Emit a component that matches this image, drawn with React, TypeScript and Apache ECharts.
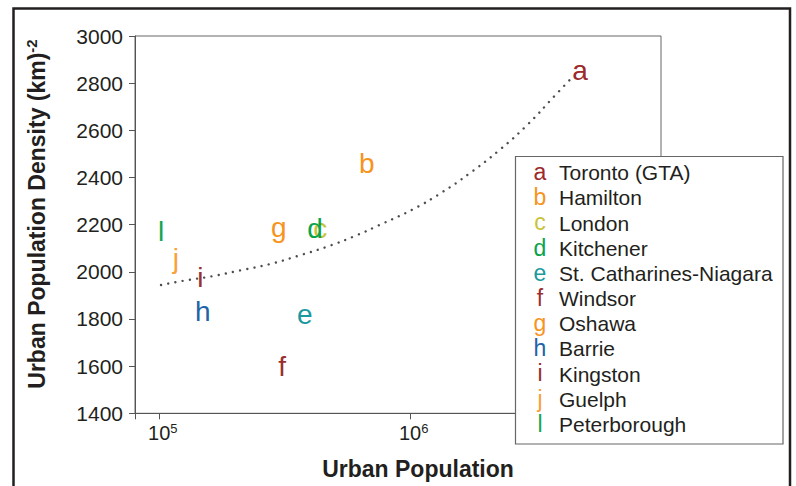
import React, { useEffect, useRef } from "react";
import * as echarts from "echarts";

// ---- data ----
const letters = ["a", "b", "c", "d", "e", "f", "g", "h", "i", "j", "l"];
const cities = [
  "Toronto (GTA)",
  "Hamilton",
  "London",
  "Kitchener",
  "St. Catharines-Niagara",
  "Windsor",
  "Oshawa",
  "Barrie",
  "Kingston",
  "Guelph",
  "Peterborough",
];
const cityColors = [
  "#9c2a2b",
  "#f7941d",
  "#c8c43a",
  "#0ba24c",
  "#1a99a1",
  "#98302f",
  "#f7941d",
  "#2164a6",
  "#98302f",
  "#f8a03a",
  "#14a651",
];
const population = [4755000, 671200, 437700, 418000, 380200, 308500, 299200, 149000, 145900, 116400, 101600];
const density = [2855, 2459, 2184, 2184, 1821, 1599, 2186, 1830, 1978, 2056, 2173];

// dotted fit curve
const fitPopulation = [
  101600, 124700, 161900, 210300, 273700, 355500, 464500, 602600, 781900, 1025200, 1330000, 1726000, 2255000,
  2930000, 3767000, 4476000,
];
const fitDensity = [1944, 1962, 1981, 2006, 2032, 2067, 2106, 2152, 2206, 2265, 2335, 2418, 2514, 2623, 2746, 2830];

const yMin = 1400;
const yMax = 3000;
const yInterval = 200;
const xMin = 80000;
const xMax = 10000000;
const xLabelExponents = [5, 6];

const xTitle = "Urban Population";
const yTitle = "Urban Population Density (km)";
const yTitleSup = "-2";

const FONT = "'Liberation Sans', Arial, Helvetica, sans-serif";

export default function App() {
  const ref = useRef<HTMLDivElement>(null);

  useEffect(() => {
    if (!ref.current) return;
    const chart = echarts.init(ref.current, undefined, { renderer: "svg" });

    const legendBaseY = 180;
    const legendStep = 25.17;
    const legendChildren: any[] = [
      {
        type: "rect",
        shape: { x: 515.5, y: 156.5, width: 267.5, height: 287.5 },
        style: { fill: "#ffffff", stroke: "#666666", lineWidth: 1.2 },
        z: 100,
      },
    ];
    cities.forEach((name, i) => {
      const base = legendBaseY + legendStep * i;
      legendChildren.push({
        type: "text",
        x: 540,
        y: base - 0.3465 * 23,
        z: 101,
        style: {
          text: letters[i],
          fill: cityColors[i],
          fontSize: 23,
          fontFamily: FONT,
          align: "center",
          verticalAlign: "middle",
        },
      });
      legendChildren.push({
        type: "text",
        x: 559,
        y: base - 0.3465 * 21,
        z: 101,
        style: {
          text: name,
          fill: "#231f20",
          fontSize: 21,
          fontFamily: FONT,
          align: "left",
          verticalAlign: "middle",
        },
      });
    });

    const option: any = {
      animation: false,
      backgroundColor: "#ffffff",
      grid: {
        left: 135,
        top: 36,
        width: 526,
        height: 377.3,
        show: true,
        borderColor: "#666666",
        borderWidth: 1,
        backgroundColor: "transparent",
      },
      xAxis: {
        type: "log",
        logBase: 10,
        min: xMin,
        max: xMax,
        axisLine: { show: true, lineStyle: { color: "#555555", width: 1 } },
        axisTick: { show: true, length: 6, lineStyle: { color: "#555555" } },
        splitLine: { show: false },
        minorTick: { show: false },
        axisLabel: {
          margin: 9,
          padding: [0, 0, 0, 7],
          color: "#231f20",
          formatter: (v: number) => {
            const e = Math.log10(v);
            const r = Math.round(e);
            if (Math.abs(e - r) < 1e-6 && xLabelExponents.indexOf(r) >= 0) return `{b|10}{s|${r}}`;
            return "";
          },
          rich: {
            b: { fontSize: 20, fontFamily: FONT, color: "#231f20", lineHeight: 22 },
            s: { fontSize: 13, fontFamily: FONT, color: "#231f20", lineHeight: 13, verticalAlign: "top" },
          },
        },
      },
      yAxis: {
        type: "value",
        min: yMin,
        max: yMax,
        interval: yInterval,
        axisLine: { show: true, lineStyle: { color: "#555555", width: 1 } },
        axisTick: { show: true, length: 6, lineStyle: { color: "#555555" } },
        splitLine: { show: false },
        axisLabel: {
          fontSize: 21,
          fontFamily: FONT,
          color: "#231f20",
          margin: 12,
          formatter: (v: number) => String(v),
        },
      },
      series: [
        {
          type: "line",
          data: fitPopulation.map((p, i) => [p, fitDensity[i]]),
          smooth: true,
          showSymbol: false,
          silent: true,
          lineStyle: { color: "#4d4d4d", width: 2.4, type: [0.01, 7.3], cap: "round" },
          z: 2,
        },
        {
          type: "scatter",
          symbolSize: 1,
          silent: true,
          itemStyle: { color: "transparent", opacity: 1 },
          z: 3,
          label: {
            show: true,
            position: "inside",
            fontSize: 28,
            fontFamily: FONT,
            opacity: 1,
            formatter: (p: any) => letters[p.dataIndex],
          },
          data: population.map((p, i) => ({
            value: [p, density[i]],
            label: { color: cityColors[i] },
          })),
        },
      ],
      graphic: [
        {
          type: "rect",
          shape: { x: 13.5, y: 8.5, width: 776.5, height: 520 },
          style: { fill: "none", stroke: "#231f20", lineWidth: 2.5 },
          z: 50,
          silent: true,
        },
        {
          type: "text",
          x: 37,
          y: 214,
          rotation: Math.PI / 2,
          z: 50,
          style: {
            text: `{m|${yTitle}}{s|${yTitleSup}}`,
            align: "center",
            verticalAlign: "middle",
            fill: "#231f20",
            rich: {
              m: { fontSize: 23, fontWeight: "bold", fontFamily: FONT, fill: "#231f20", lineHeight: 26 },
              s: { fontSize: 15, fontWeight: "bold", fontFamily: FONT, fill: "#231f20", lineHeight: 15, verticalAlign: "top" },
            },
          },
        },
        {
          type: "text",
          x: 418,
          y: 469,
          z: 50,
          style: {
            text: xTitle,
            align: "center",
            verticalAlign: "middle",
            fill: "#231f20",
            fontSize: 23,
            fontWeight: "bold",
            fontFamily: FONT,
          },
        },
        ...legendChildren,
      ],
    };

    chart.setOption(option);
    return () => chart.dispose();
  }, []);

  return (
    <div
      ref={ref}
      style={{ position: "fixed", left: 0, top: 0, width: 796, height: 486, background: "#fff" }}
    />
  );
}
